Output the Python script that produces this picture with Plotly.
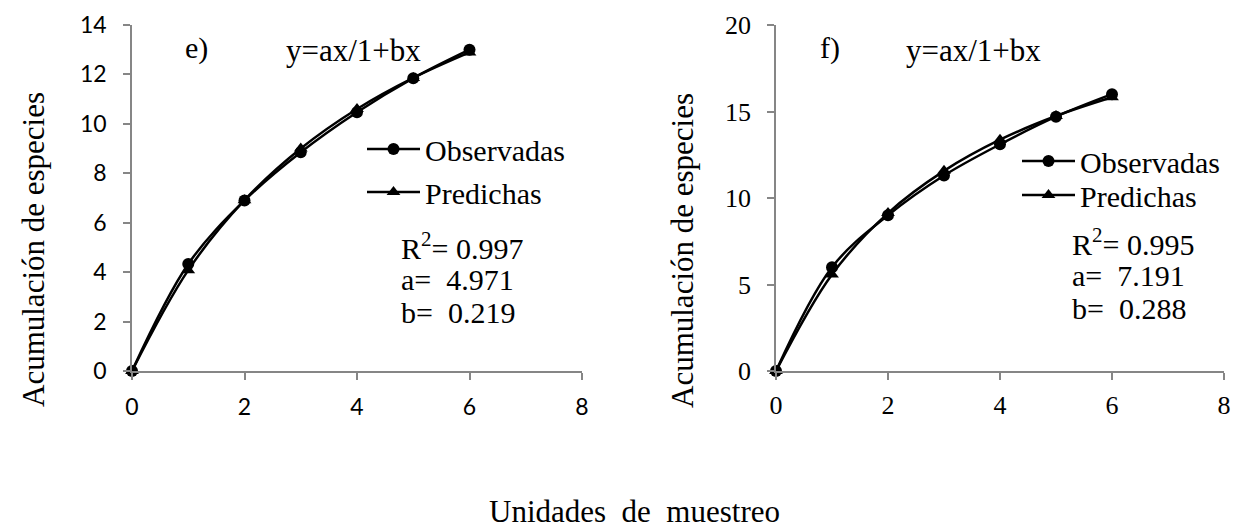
import plotly.graph_objects as go

W, H = 1235, 529

# Sampling units (x) and accumulated species counts for panels e) and f)
unidades = [0, 1, 2, 3, 4, 5, 6]
obs_e = [0, 4.33, 6.9, 8.85, 10.47, 11.85, 13.0]
pred_e = [0, 4.08, 6.91, 9.0, 10.6, 11.86, 12.89]
obs_f = [0, 6.0, 9.0, 11.3, 13.1, 14.7, 16.0]
pred_f = [0, 5.58, 9.13, 11.57, 13.37, 14.74, 15.82]

stats_e = ["R<sup>2</sup>= 0.997", "a=  4.971", "b=  0.219"]
stats_f = ["R<sup>2</sup>= 0.995", "a=  7.191", "b=  0.288"]

SERIF = "Liberation Serif, Times New Roman, serif"
SANS = "Lato, Carlito, Calibri, sans-serif"
AXIS_GREY = "#868686"


def px(x):
    return x / W


def py(y):
    return 1 - y / H


fig = go.Figure()

# (x axis, y axis, legend for observed, legend for predicted, data)
panels = [
    ("x", "y", "legend", "legend2", obs_e, pred_e),
    ("x2", "y2", "legend3", "legend4", obs_f, pred_f),
]
for xa, ya, lg_obs, lg_pred, obs, pred in panels:
    fig.add_trace(go.Scatter(
        x=unidades, y=obs, name="Observadas", xaxis=xa, yaxis=ya,
        mode="lines+markers", line=dict(color="black", width=2.5, shape="spline"),
        marker=dict(symbol="circle", size=12, color="black"),
        legend=lg_obs, cliponaxis=False,
    ))
    fig.add_trace(go.Scatter(
        x=unidades, y=pred, name="Predichas", xaxis=xa, yaxis=ya,
        mode="lines+markers", line=dict(color="black", width=2.5, shape="spline"),
        marker=dict(symbol="triangle-up", size=12, color="black"),
        legend=lg_pred, cliponaxis=False,
    ))

y_dom = [py(371), py(25)]

common_axis = dict(
    showline=True, linecolor=AXIS_GREY, linewidth=1.5,
    ticks="outside", tickcolor=AXIS_GREY, ticklen=7, tickwidth=1.5,
    showgrid=False, zeroline=False, fixedrange=True, automargin=False,
)


def legend_at(x, y):
    # single-entry legend box, anchored at its left edge and vertical centre
    return dict(
        x=px(x), y=py(y), xanchor="left", yanchor="middle",
        bgcolor="rgba(0,0,0,0)", borderwidth=0,
        font=dict(family=SERIF, size=30, color="black"),
        itemwidth=53,
    )


fig.update_layout(
    width=W, height=H,
    margin=dict(l=0, r=0, t=0, b=0, autoexpand=False),
    paper_bgcolor="white", plot_bgcolor="white",
    showlegend=True,
    xaxis=dict(common_axis, domain=[px(132), px(582)], range=[0, 8], dtick=2,
               anchor="y", tickfont=dict(family=SANS, size=23, color="black"),
               ticklabelstandoff=8),
    yaxis=dict(common_axis, domain=y_dom, range=[0, 14], dtick=2,
               anchor="x", tickfont=dict(family=SANS, size=23, color="black"),
               ticklabelstandoff=12),
    xaxis2=dict(common_axis, domain=[px(776), px(1224)], range=[0, 8], dtick=2,
                anchor="y2", tickfont=dict(family=SERIF, size=26, color="black"),
                ticklabelstandoff=3),
    yaxis2=dict(common_axis, domain=y_dom, range=[0, 20], dtick=5,
                anchor="x2", tickfont=dict(family=SERIF, size=26, color="black"),
                ticklabelstandoff=11),
    legend=legend_at(362, 149),
    legend2=legend_at(362, 192),
    legend3=legend_at(1017, 161),
    legend4=legend_at(1017, 195),
)

annotations = []


def text(x, y, s, size=30, xanchor="center", **kw):
    annotations.append(dict(
        x=px(x), y=py(y), xref="paper", yref="paper", text=s, showarrow=False,
        xanchor=xanchor, yanchor="middle",
        font=dict(family=SERIF, size=size, color="black"), **kw,
    ))


# Panel labels and model equation
text(183, 48, "e)", xanchor="left")
text(284, 50, "y=ax/1+bx", size=31, xanchor="left")
text(818, 48, "f)", xanchor="left")
text(904, 50, "y=ax/1+bx", size=31, xanchor="left")

# Fit statistics
for i, s in enumerate(stats_e):
    text(399, 246 + 33 * i, s, xanchor="left")
for i, s in enumerate(stats_f):
    text(1070, 242 + 33 * i, s, xanchor="left")

# Axis titles
text(33, 250, "Acumulación de especies", size=31, textangle=-90)
text(682, 250, "Acumulación de especies", size=31, textangle=-90)
text(634, 511, "Unidades&nbsp;&nbsp;de&nbsp;&nbsp;muestreo", size=31)

fig.update_layout(annotations=annotations)

fig.write_html("out.html")
